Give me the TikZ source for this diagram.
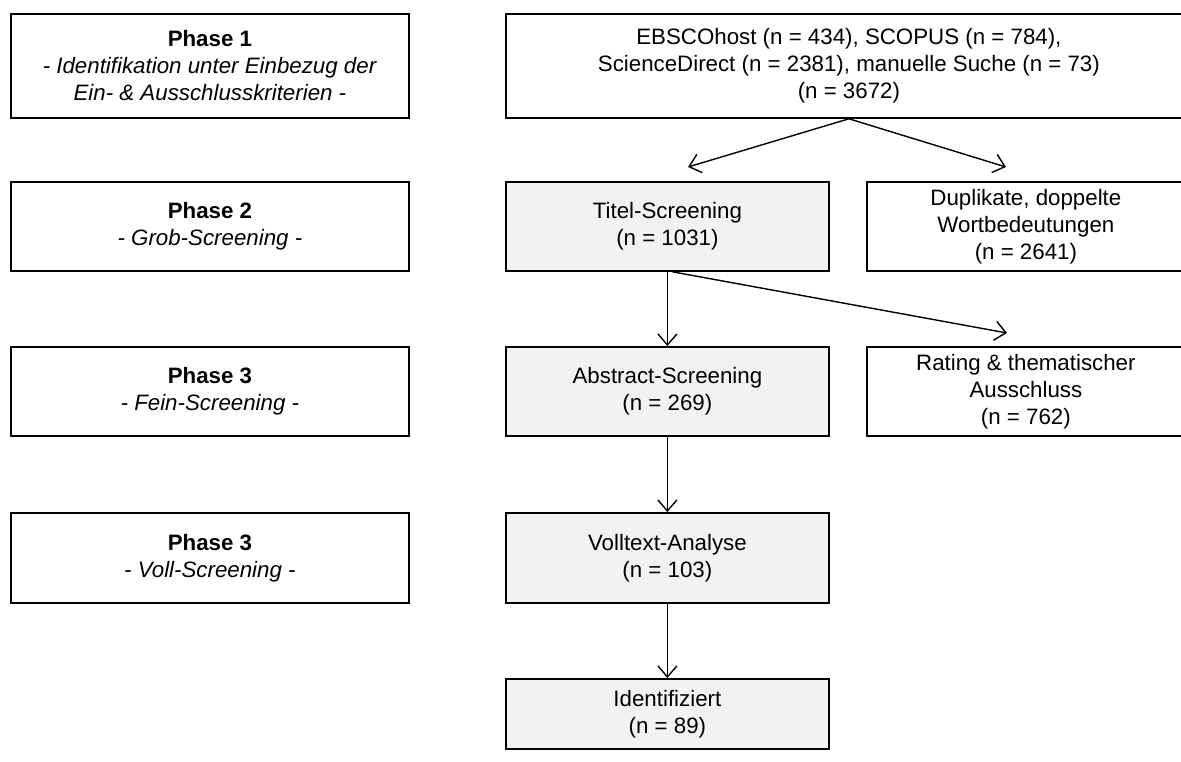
\documentclass[tikz,border=0pt]{standalone}
\usepackage{fontspec}
\setmainfont{Liberation Sans}
\usetikzlibrary{arrows.meta}
\definecolor{boxgrey}{HTML}{F2F2F2}
\tikzset{
  box/.style={draw=black, line width=1.8pt, inner sep=0pt, align=center,
    font=\fontsize{22.3}{27}\selectfont, anchor=north west},
  greybox/.style={box, fill=boxgrey},
  conn/.style={line width=1.4pt, -{Straight Barb[length=11pt,width=19pt,line width=1.4pt]}}
}
\begin{document}
\begin{tikzpicture}[x=1pt,y=-1pt]
\clip (0,0) rectangle (1181,762);
\fill[white] (0,0) rectangle (1181,762);
% left column
\node[box, minimum width=398pt, minimum height=104pt] (p1) at (10,13)
  {\textbf{Phase 1}\\\textit{- Identifikation unter Einbezug der}\\\textit{Ein- \& Ausschlusskriterien -}};
\node[box, minimum width=398pt, minimum height=89pt] (p2) at (10,181)
  {\textbf{Phase 2}\\\textit{- Grob-Screening -}};
\node[box, minimum width=398pt, minimum height=89pt] (p3) at (10,346)
  {\textbf{Phase 3}\\\textit{- Fein-Screening -}};
\node[box, minimum width=398pt, minimum height=90pt] (p4) at (10,512)
  {\textbf{Phase 3}\\\textit{- Voll-Screening -}};
% right part
\node[box, minimum width=686pt, minimum height=104pt] (src) at (505,13)
  {EBSCOhost (n = 434), SCOPUS (n = 784),\\ScienceDirect (n = 2381), manuelle Suche (n = 73)\\(n = 3672)};
\node[greybox, minimum width=323pt, minimum height=89pt] (titel) at (505,181)
  {Titel-Screening\\(n = 1031)};
\node[box, minimum width=318pt, minimum height=89pt] (dup) at (866,181)
  {Duplikate, doppelte\\Wortbedeutungen\\(n = 2641)};
\node[greybox, minimum width=323pt, minimum height=89pt] (abs) at (505,346)
  {Abstract-Screening\\(n = 269)};
\node[box, minimum width=318pt, minimum height=89pt] (rat) at (866,346)
  {Rating \& thematischer\\Ausschluss\\(n = 762)};
\node[greybox, minimum width=323pt, minimum height=90pt] (voll) at (505,512)
  {Volltext-Analyse\\(n = 103)};
\node[greybox, minimum width=323pt, minimum height=70pt] (ident) at (505,678)
  {Identifiziert\\(n = 89)};
% connectors
\coordinate (tA) at (688,167);
\coordinate (tB) at (1006,167);
\coordinate (tC) at (1007,333);
\draw[conn] (src.south) -- (tA);
\draw[conn] (src.south) -- (tB);
\draw[conn] (titel.south) -- (abs.north);
\draw[conn] ([xshift=5pt]titel.south) -- (tC);
\draw[conn] (abs.south) -- (voll.north);
\draw[conn] (voll.south) -- (ident.north);
\end{tikzpicture}
\end{document}
